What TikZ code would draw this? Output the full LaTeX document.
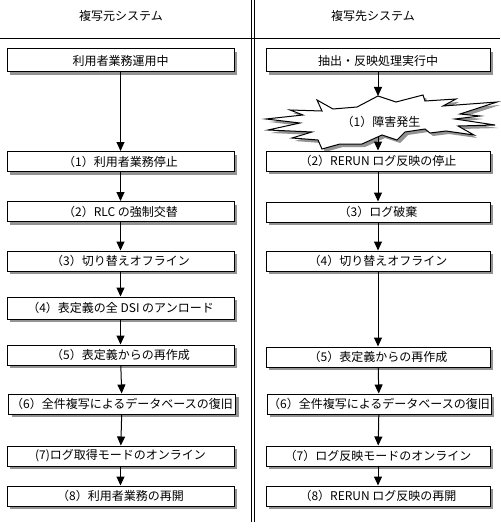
\documentclass[tikz,border=0pt]{standalone}
\usepackage{fontspec}
\setmainfont{Noto Sans CJK JP}
\usetikzlibrary{arrows.meta, shadows}

\tikzset{
  stepbox/.style={draw, fill=white, line width=1pt, inner sep=0pt,
    minimum height=20pt, font=\fontsize{12}{14}\selectfont,
    drop shadow={shadow xshift=3pt, shadow yshift=-3pt, fill=gray!85, opacity=1}},
  srcbox/.style={stepbox, minimum width=227pt},
  dstbox/.style={stepbox, minimum width=224pt},
  flow/.style={-{Triangle[width=8pt, length=9pt]}, line width=1pt},
  head/.style={font=\fontsize{12}{14}\selectfont}
}

\begin{document}
\begin{tikzpicture}[x=1pt, y=-1pt]
  \useasboundingbox (0,0) rectangle (500,532);

  % frame
  \draw[line width=1pt] (0,39) -- (500,39);
  \draw[line width=1pt] (251,0) -- (251,522);
  \draw[line width=1pt] (254,0) -- (254,522);
  \node[head] (src head) at (121,16) {複写元システム};
  \node[head] (dst head) at (373,16) {複写先システム};

  % copy source
  \node[srcbox, minimum height=23pt] (s0) at (120.5,60.5) {利用者業務運用中};
  \node[srcbox] (s1) at (120.5,161.5) {（1）利用者業務停止};
  \node[srcbox] (s2) at (120.5,211.5) {（2）RLC の強制交替};
  \node[srcbox] (s3) at (120.5,261) {（3）切り替えオフライン};
  \node[srcbox, minimum height=22pt] (s4) at (120.5,308) {（4）表定義の全 DSI のアンロード};
  \node[srcbox] (s5) at (120.5,355) {（5）表定義からの再作成};
  \node[srcbox] (s6) at (122,404) {（6）全件複写によるデータベースの復旧};
  \node[srcbox] (s7) at (120.5,456) {(7)ログ取得モードのオンライン};
  \node[srcbox] (s8) at (120.5,496) {（8）利用者業務の再開};

  \foreach \a/\b in {s0/s1, s1/s2, s2/s3, s3/s4, s4/s5, s5/s6, s6/s7, s7/s8}
    \draw[flow] (\a) -- (\b);

  % copy destination
  \node[dstbox, minimum height=23pt] (d0) at (378,60.5) {抽出・反映処理実行中};

  % fault burst
  \fill[gray!85, shift={(3,3)}]
    (317,100) -- (333,109) -- (357,107) -- (378,96) -- (396,102) -- (423,95)
    -- (425,101) -- (456,99) -- (443,106) -- (497,102) -- (460,114) -- (480,116)
    -- (455,119) -- (495,125) -- (458,126) -- (474,135) -- (446,131) -- (430,133)
    -- (425,129) -- (405,132) -- (397,140) -- (382,135) -- (362,144) -- (340,144)
    -- (322,149) -- (318,140) -- (292,138) -- (312,132) -- (268,130) -- (300,123)
    -- (266,119) -- (303,115) -- (290,110) -- (322,111) -- cycle;
  \filldraw[fill=white, line width=1pt]
    (317,100) -- (333,109) -- (357,107) -- (378,96) -- (396,102) -- (423,95)
    -- (425,101) -- (456,99) -- (443,106) -- (497,102) -- (460,114) -- (480,116)
    -- (455,119) -- (495,125) -- (458,126) -- (474,135) -- (446,131) -- (430,133)
    -- (425,129) -- (405,132) -- (397,140) -- (382,135) -- (362,144) -- (340,144)
    -- (322,149) -- (318,140) -- (292,138) -- (312,132) -- (268,130) -- (300,123)
    -- (266,119) -- (303,115) -- (290,110) -- (322,111) -- cycle;
  \node[head] (fault) at (381,122) {（1）障害発生};
  \coordinate (fault top) at (378,96);
  \coordinate (fault bot) at (378,137);

  \node[dstbox] (d2) at (378,161) {（2）RERUN ログ反映の停止};
  \node[dstbox] (d3) at (378,212) {（3）ログ破棄};
  \node[dstbox] (d4) at (378,261) {（4）切り替えオフライン};
  \node[dstbox] (d5) at (378,357) {（5）表定義からの再作成};
  \node[dstbox] (d6) at (379,404) {（6）全件複写によるデータベースの復旧};
  \node[dstbox] (d7) at (378,456) {（7）ログ反映モードのオンライン};
  \node[dstbox] (d8) at (378,496) {（8）RERUN ログ反映の再開};

  \draw[flow] (d0) -- (fault top);
  \draw[flow] (fault bot) -- (d2);
  \foreach \a/\b in {d2/d3, d3/d4, d4/d5, d5/d6, d6/d7, d7/d8}
    \draw[flow] (\a) -- (\b);
\end{tikzpicture}
\end{document}
